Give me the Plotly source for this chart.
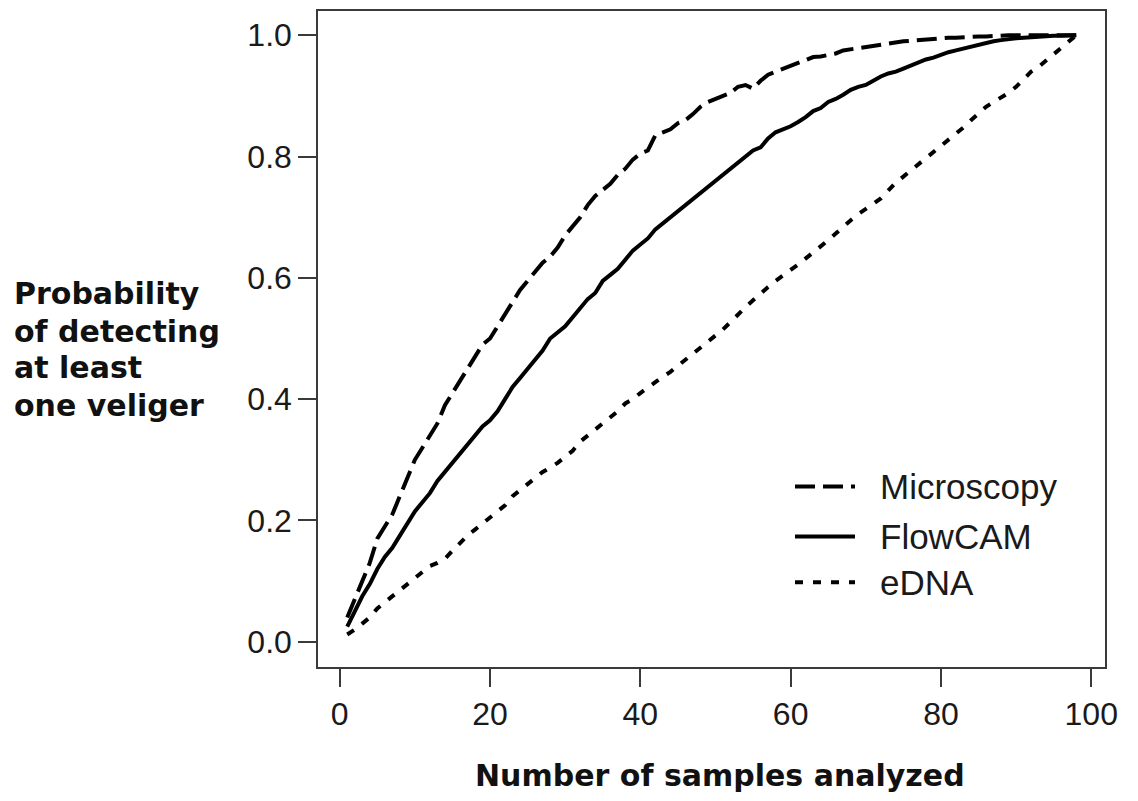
import plotly.graph_objects as go

samples = list(range(1, 99))

microscopy = [
    0.04, 0.07, 0.10, 0.13, 0.17, 0.19, 0.21, 0.24, 0.27, 0.30,
    0.32, 0.34, 0.36, 0.39, 0.41, 0.43, 0.45, 0.47, 0.49, 0.50,
    0.52, 0.54, 0.56, 0.58, 0.595, 0.61, 0.625, 0.635, 0.65, 0.67,
    0.685, 0.70, 0.72, 0.735, 0.745, 0.755, 0.77, 0.78, 0.795, 0.805,
    0.81, 0.835, 0.84, 0.845, 0.855, 0.86, 0.87, 0.882, 0.89, 0.895,
    0.90, 0.905, 0.915, 0.918, 0.912, 0.925, 0.935, 0.94, 0.945, 0.95,
    0.955, 0.96, 0.964, 0.965, 0.968, 0.97, 0.975, 0.977, 0.978, 0.98,
    0.982, 0.985, 0.987, 0.988, 0.99, 0.991, 0.992, 0.993, 0.995, 0.995,
    0.996, 0.996, 0.997, 0.997, 0.998, 0.998, 0.999, 0.999, 1.0, 1.0,
    1.0, 1.0, 1.0, 1.0, 1.0, 1.0, 1.0, 1.0,
]

flowcam = [
    0.025, 0.05, 0.075, 0.095, 0.12, 0.14, 0.155, 0.175, 0.195, 0.215,
    0.23, 0.245, 0.265, 0.28, 0.295, 0.31, 0.325, 0.34, 0.355, 0.365,
    0.38, 0.40, 0.42, 0.435, 0.45, 0.465, 0.48, 0.50, 0.51, 0.52,
    0.535, 0.55, 0.565, 0.575, 0.595, 0.605, 0.615, 0.63, 0.645, 0.655,
    0.665, 0.68, 0.69, 0.70, 0.71, 0.72, 0.73, 0.74, 0.75, 0.76,
    0.77, 0.78, 0.79, 0.80, 0.81, 0.815, 0.83, 0.84, 0.845, 0.85,
    0.857, 0.865, 0.875, 0.88, 0.89, 0.895, 0.902, 0.91, 0.915, 0.918,
    0.925, 0.932, 0.937, 0.94, 0.945, 0.95, 0.955, 0.96, 0.963, 0.968,
    0.972, 0.975, 0.978, 0.982, 0.985, 0.988, 0.99, 0.992, 0.994, 0.995,
    0.996, 0.997, 0.998, 0.998, 0.999, 0.999, 1.0, 1.0,
]

edna = [
    0.012, 0.02, 0.03, 0.04, 0.055, 0.065, 0.075, 0.085, 0.095, 0.105,
    0.115, 0.125, 0.13, 0.137, 0.15, 0.163, 0.175, 0.185, 0.195, 0.205,
    0.215, 0.225, 0.24, 0.25, 0.26, 0.27, 0.28, 0.287, 0.295, 0.305,
    0.315, 0.33, 0.34, 0.35, 0.36, 0.37, 0.38, 0.393, 0.40, 0.41,
    0.42, 0.428, 0.437, 0.445, 0.455, 0.465, 0.474, 0.483, 0.493, 0.503,
    0.515, 0.527, 0.54, 0.552, 0.563, 0.575, 0.585, 0.595, 0.605, 0.613,
    0.622, 0.632, 0.64, 0.65, 0.662, 0.673, 0.685, 0.695, 0.705, 0.713,
    0.722, 0.731, 0.745, 0.757, 0.767, 0.777, 0.788, 0.798, 0.808, 0.818,
    0.828, 0.838, 0.848, 0.86, 0.872, 0.882, 0.89, 0.898, 0.905, 0.915,
    0.928, 0.94, 0.948, 0.958, 0.968, 0.978, 0.99, 1.0,
]

series_names = ["Microscopy", "FlowCAM", "eDNA"]
series_values = [microscopy, flowcam, edna]
series_dash = ["20px,8px", "solid", "8px,10px"]

x_ticks = [0, 20, 40, 60, 80, 100]
y_ticks = [0.0, 0.2, 0.4, 0.6, 0.8, 1.0]
y_tick_labels = ["0.0", "0.2", "0.4", "0.6", "0.8", "1.0"]

x_title = "Number of samples analyzed"
y_title_lines = ["Probability", "of detecting", "at least", "one veliger"]

# the page body has an 8px margin; shift everything by it
OFF = 8
W, H = 1138 - OFF, 801 - OFF
L, R, T, B = 318 - OFF, 1105 - OFF, 9 - OFF, 667 - OFF


def px_x(p):
    return (p - OFF - L) / (R - L)


def px_y(p):
    return (B - (p - OFF)) / (B - T)


fig = go.Figure()
for name, vals, dash in zip(series_names, series_values, series_dash):
    fig.add_trace(go.Scatter(
        x=samples, y=vals, mode="lines", name=name,
        line=dict(color="black", width=4, dash=dash),
        showlegend=False,
    ))

axis_col = "#3a3a3a"
tick_font = dict(family="Liberation Sans, Arial, sans-serif", size=32, color="#1a1a1a")

fig.update_xaxes(
    range=[-2.89, 101.83], tickvals=x_ticks, ticks="outside", ticklen=18,
    tickwidth=1.5, tickcolor=axis_col, showline=True, linecolor=axis_col,
    linewidth=1.5, mirror=True, showgrid=False, zeroline=False,
    tickfont=tick_font, ticklabelstandoff=0,
)
fig.update_yaxes(
    range=[-0.0416, 1.040], tickvals=y_ticks, ticktext=y_tick_labels,
    ticks="outside", ticklen=18, tickwidth=1.5, tickcolor=axis_col,
    showline=True, linecolor=axis_col, linewidth=1.5, mirror=True,
    showgrid=False, zeroline=False, tickfont=tick_font,
)

bold_font = dict(family="DejaVu Sans", size=30, color="#111")
annotations = [
    dict(text="<b>" + x_title + "</b>", x=px_x(720), y=px_y(776), xref="paper", yref="paper",
         xanchor="center", yanchor="middle", showarrow=False, font=bold_font),
]
y_title_centers = [292, 330, 367, 405]
for line, cy in zip(y_title_lines, y_title_centers):
    annotations.append(dict(text="<b>" + line + "</b>", x=px_x(12), y=px_y(cy),
                            xref="paper", yref="paper", xanchor="left", yanchor="middle",
                            align="left", showarrow=False, font=bold_font))

shapes = []
legend_y = [486, 536, 582]
for name, dash, ly in zip(series_names, series_dash, legend_y):
    shapes.append(dict(type="line", xref="paper", yref="paper",
                       x0=px_x(795), x1=px_x(855), y0=px_y(ly), y1=px_y(ly),
                       line=dict(color="black", width=4, dash=dash)))
    annotations.append(dict(text=name, x=px_x(878), y=px_y(ly), xref="paper", yref="paper",
                            xanchor="left", yanchor="middle", showarrow=False,
                            font=dict(family="Liberation Sans, Arial, sans-serif", size=35, color="#1a1a1a")))

fig.update_layout(
    width=W, height=H,
    margin=dict(l=L, r=W - R, t=T, b=H - B),
    plot_bgcolor="white", paper_bgcolor="white",
    annotations=annotations, shapes=shapes, showlegend=False,
)

fig.write_html("out.html")
